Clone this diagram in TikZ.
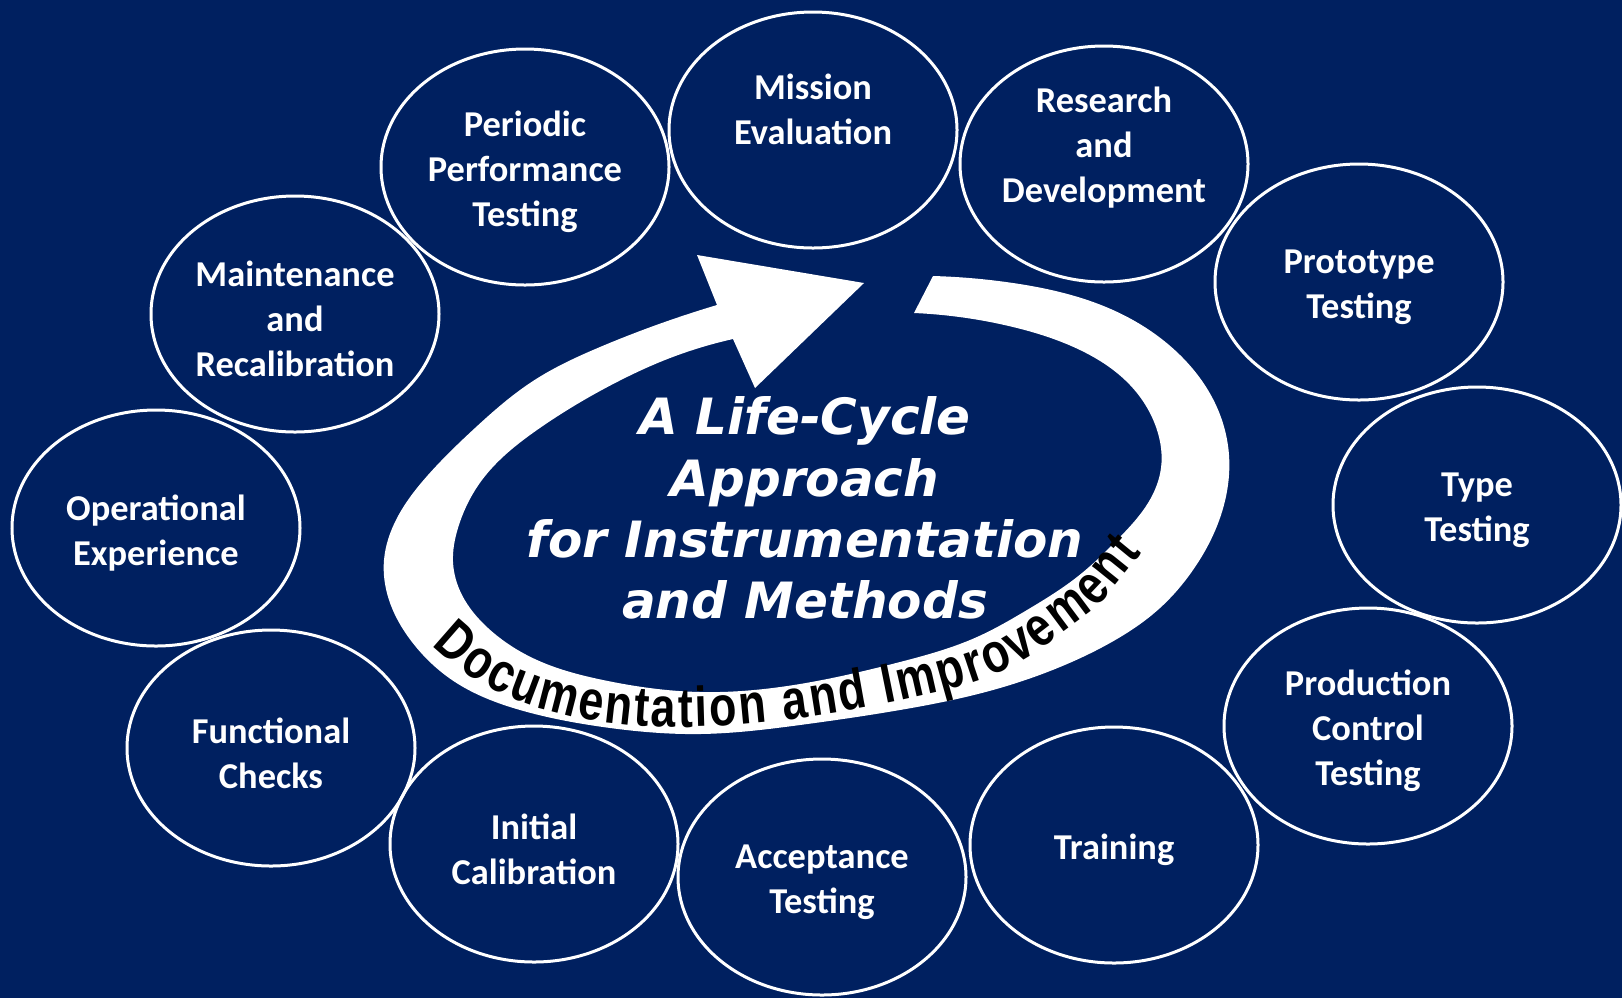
\documentclass[tikz,border=0pt]{standalone}
\usepackage{fontspec}
\usepackage{tikz}
\usetikzlibrary{shapes.geometric, decorations.text, hobby}
\newfontfamily\bollafont{Carlito}
\newfontfamily\titolofont{DejaVu Sans}[BoldItalicFont = {DejaVu Sans Bold Oblique}]
\newfontfamily\arcofont{Liberation Sans}[FakeStretch = 0.8]
\definecolor{blunotte}{HTML}{002060}
\tikzset{
    testo bolla/.style = {align = center, text = white, inner sep = 0pt, yshift = -2.5pt, font = \bollafont\bfseries\fontsize{18.2}{22.5}\selectfont},
    bolla/.style = {ellipse, draw = white, line width = 1.5pt, minimum width = 144pt, minimum height = 118pt, inner sep = 0pt, label = {[testo bolla]center:#1}},
    titolo/.style = {align = center, text = white, font = \titolofont\bfseries\itshape\fontsize{25}{30.6}\selectfont}
}

\begin{document}
\begin{tikzpicture}[x = 0.5pt, y = -0.5pt]
    % Sfondo
    \useasboundingbox (0,0) rectangle (1622,998);
    \fill[blunotte] (0,0) rectangle (1622,998);
    % Freccia circolare
    \fill[white] (933,276)
        to[curve through = {(1013,283) .. (1113,310) .. (1180,355) .. (1215,403) .. (1229,455) .. (1221,515) .. (1193,570) .. (1160,608) .. (1110,643) .. (1060,667) .. (993,690) .. (900,710) .. (800,725) .. (700,734) .. (603,727) .. (520,710) .. (455,682) .. (412,642) .. (389,600) .. (384,560) .. (397,518) .. (428,475) .. (475,428) .. (533,381) .. (600,347)}] (717,305)
        -- (697,255) -- (864,283) -- (755,388) -- (733,339)
        to[curve through = {(660,362) .. (617,382) .. (537,430) .. (482,480) .. (458,528) .. (453,562) .. (462,595) .. (488,628) .. (537,660) .. (603,680) .. (700,692) .. (800,684) .. (900,662) .. (977,637) .. (1027,610) .. (1077,577) .. (1120,537) .. (1148,503) .. (1161,468) .. (1156,427) .. (1130,385) .. (1080,350) .. (1013,327)}] (914,313)
        -- cycle;
    % Testo lungo la freccia
    \path[decorate, decoration = {text along path, text align = {fit to path}, text color = black,
        text = {|\arcofont\bfseries\fontsize{28}{28}\selectfont|Documentation and Improvement}}]
        (432,645) to[curve through = {(500,693) .. (557,713) .. (690,727) .. (800,718) .. (893,702) .. (970,683) .. (1033,655) .. (1070,627) .. (1100,603) .. (1120,580)}] (1142,553);
    % Titolo
    \node[titolo] (titolo) at (805,508) {A Life-Cycle\\Approach\\for Instrumentation\\and Methods};
    % Bolle
    \node[bolla = {Mission\\Evaluation\\[3pt]~}] (missione) at (813,130) {};
    \node[bolla = {Research\\and\\Development\\[2pt]~}] (ricerca) at (1104,164) {};
    \node[bolla = {Prototype\\Testing}] (prototipo) at (1359,282) {};
    \node[bolla = {Type\\Testing}] (tipo) at (1477,505) {};
    \node[bolla = {Production\\Control\\Testing}] (produzione) at (1368,726) {};
    \node[bolla = {Training}] (formazione) at (1114,845) {};
    \node[bolla = {Acceptance\\Testing}] (accettazione) at (822,877) {};
    \node[bolla = {Initial\\Calibration}] (calibrazione) at (534,844) {};
    \node[bolla = {Functional\\Checks}] (funzionali) at (271,748) {};
    \node[bolla = {Operational\\Experience}] (esperienza) at (156,528) {};
    \node[bolla = {Maintenance\\and\\Recalibration}] (manutenzione) at (295,314) {};
    \node[bolla = {Periodic\\Performance\\Testing}] (periodiche) at (525,167) {};
\end{tikzpicture}
\end{document}
